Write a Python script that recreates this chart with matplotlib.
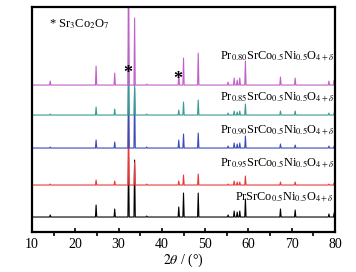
import numpy as np
import matplotlib
matplotlib.use('Agg')
from matplotlib import pyplot as plt

plt.rcParams['font.family'] = ['Liberation Serif', 'DejaVu Serif']
plt.rcParams['mathtext.fontset'] = 'stix'

# peak positions (2theta) and heights for each sample
peaks = [14.2, 24.8, 29.1, 32.3, 33.7, 36.5, 43.9, 45.0, 48.4, 55.3, 56.7, 57.4, 58.0, 59.3, 67.4, 70.8, 78.6, 79.8]
h_100 = [2, 12, 8, 60, 57, 1, 10, 24, 24, 2, 6, 5, 6, 18, 8, 7, 3, 4]
h_095 = [1, 5, 4, 75, 23, 1, 4, 10, 11, 1, 4, 3, 3, 9, 3, 3, 1, 2]
h_090 = [1, 8, 6, 70, 60, 1, 8, 14, 15, 2, 5, 4, 5, 12, 4, 3, 2, 2]
h_085 = [1, 8, 6, 70, 30, 1, 5, 13, 15, 2, 4, 3, 4, 11, 4, 4, 2, 2]
h_080 = [4, 19, 12, 150, 67, 1, 12, 27, 32, 3, 7, 5, 7, 24, 8, 7, 4, 5]
offsets = [15, 47, 84, 117, 147]
colors = ['black', '#e83a3a', '#3a4ab8', '#3a9a90', '#c060c8']
labels = ['PrSrCo$_{0.5}$Ni$_{0.5}$O$_{4+\\delta}$',
          'Pr$_{0.95}$SrCo$_{0.5}$Ni$_{0.5}$O$_{4+\\delta}$',
          'Pr$_{0.90}$SrCo$_{0.5}$Ni$_{0.5}$O$_{4+\\delta}$',
          'Pr$_{0.85}$SrCo$_{0.5}$Ni$_{0.5}$O$_{4+\\delta}$',
          'Pr$_{0.80}$SrCo$_{0.5}$Ni$_{0.5}$O$_{4+\\delta}$']
label_y = [35, 69, 102, 135, 176]

fig = plt.figure(figsize=(3.56, 2.72), dpi=100)
ax = fig.add_axes([0.09, 0.147, 0.851, 0.827])

w = 0.15
for hs, off, c, lab, ly in zip([h_100, h_095, h_090, h_085, h_080], offsets, colors, labels, label_y):
    xs = [10]
    ys = [off]
    for p, h in zip(peaks, hs):
        xs += [p - w, p, p + w]
        ys += [off, off + h, off]
    xs.append(80)
    ys.append(off)
    ax.plot(xs, ys, color=c, lw=0.8)
    ax.text(79.8, ly, lab, ha='right', va='center', fontsize=8.8)

ax.text(32.1, 159, '*', ha='center', va='center', fontsize=13, fontweight='bold')
ax.text(43.6, 153, '*', ha='center', va='center', fontsize=13, fontweight='bold')
ax.text(14.0, 208, '* Sr$_3$Co$_2$O$_7$', ha='left', va='center', fontsize=9)

ax.set_xlim(10, 80)
ax.set_ylim(0, 225)
ax.set_yticks([])
ax.set_xticks(np.arange(10, 81, 10))
ax.set_xticks(np.arange(15, 80, 10), minor=True)
ax.tick_params(axis='x', which='major', direction='in', length=3, width=1.2, labelsize=10, pad=4)
ax.tick_params(axis='x', which='minor', direction='out', length=3, width=1.2)
for s in ax.spines.values():
    s.set_linewidth(1.6)
ax.set_xlabel('$2\\theta$ / (°)', fontsize=10, labelpad=1)

fig.savefig('out.png', dpi=100)
